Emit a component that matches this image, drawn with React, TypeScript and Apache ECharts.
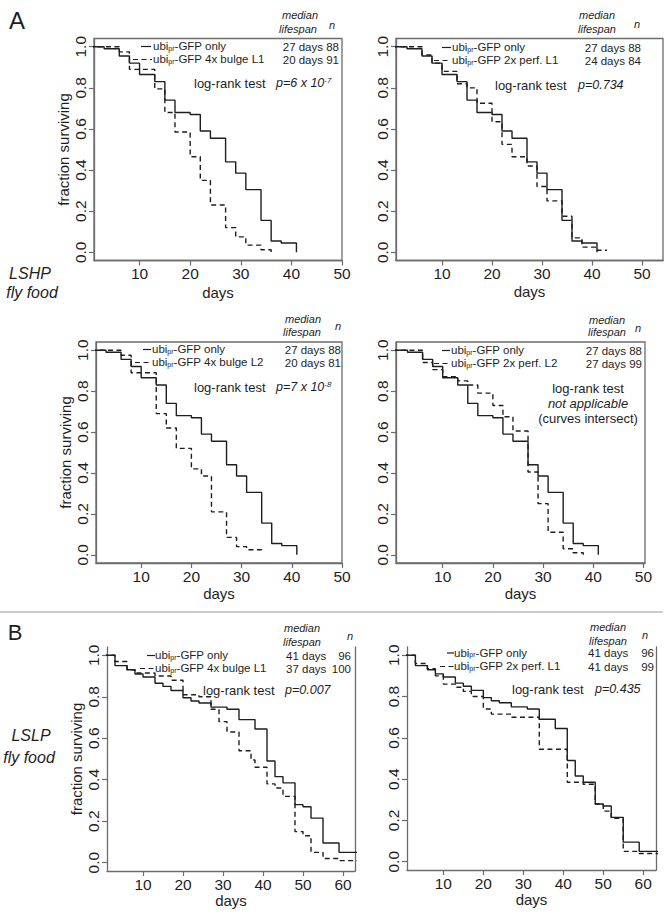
import React, { useEffect, useRef } from "react";
import * as echarts from "echarts";

const FONT = "'Liberation Sans', Arial, Helvetica, sans-serif";
const INK = "#1e1e1e";
const BOX = "#6c6c6c";

// ---------- data: day of census, fraction surviving ----------
const ctrlA_days = [0, 3, 6, 8, 10, 13, 15, 17, 20, 22, 24, 27, 29, 31, 34, 36, 38, 41];
const ctrlA_surv = [1.0, 0.99, 0.955, 0.92, 0.865, 0.83, 0.74, 0.68, 0.67, 0.59, 0.555, 0.44, 0.385, 0.305, 0.155, 0.055, 0.045, 0.0];

const bulgeL1A_days = [0, 6, 8, 13, 15, 17, 20, 22, 24, 27, 29, 31, 34, 36];
const bulgeL1A_surv = [1.0, 0.975, 0.89, 0.795, 0.68, 0.585, 0.465, 0.35, 0.23, 0.12, 0.075, 0.035, 0.012, 0.0];

const perfL1A_days = [0, 6, 8, 10, 13, 15, 17, 20, 22, 24, 27, 29, 31, 34, 36, 38, 41, 43];
const perfL1A_surv = [1.0, 0.96, 0.92, 0.88, 0.82, 0.8, 0.725, 0.635, 0.525, 0.465, 0.42, 0.32, 0.25, 0.175, 0.07, 0.025, 0.01, 0.01];

const bulgeL2A_days = [0, 6, 8, 13, 15, 17, 20, 22, 24, 27, 29, 31, 34];
const bulgeL2A_surv = [1.0, 0.975, 0.89, 0.69, 0.62, 0.52, 0.42, 0.385, 0.21, 0.085, 0.04, 0.025, 0.012];

const perfL2A_days = [0, 6, 8, 10, 13, 15, 17, 20, 22, 24, 27, 29, 31, 34, 36, 38];
const perfL2A_surv = [1.0, 0.94, 0.905, 0.87, 0.85, 0.83, 0.79, 0.73, 0.675, 0.605, 0.405, 0.25, 0.11, 0.03, 0.01, 0.0];

const ctrlB_days = [0, 3, 6, 8, 10, 13, 15, 17, 20, 22, 24, 27, 31, 34, 38, 41, 43, 45, 48, 50, 52, 55, 59, 64];
const ctrlB_surv = [1.0, 0.95, 0.93, 0.91, 0.895, 0.865, 0.85, 0.83, 0.795, 0.78, 0.77, 0.75, 0.74, 0.69, 0.645, 0.49, 0.415, 0.385, 0.28, 0.27, 0.215, 0.095, 0.05, 0.05];

const bulgeL1B_days = [0, 3, 6, 8, 13, 17, 20, 24, 27, 29, 31, 34, 37, 38, 41, 43, 45, 48, 50, 52, 55, 59, 64];
const bulgeL1B_surv = [1.0, 0.97, 0.93, 0.915, 0.9, 0.88, 0.81, 0.8, 0.74, 0.68, 0.63, 0.54, 0.495, 0.46, 0.38, 0.36, 0.32, 0.15, 0.13, 0.05, 0.02, 0.01, 0.01];

const perfL1B_days = [0, 3, 6, 8, 10, 13, 15, 17, 20, 22, 27, 34, 41, 45, 48, 50, 52, 55, 59, 64];
const perfL1B_surv = [1.0, 0.96, 0.935, 0.9, 0.86, 0.845, 0.825, 0.8, 0.74, 0.715, 0.7, 0.545, 0.385, 0.375, 0.28, 0.245, 0.21, 0.05, 0.04, 0.04];

const yTicks = [0, 0.2, 0.4, 0.6, 0.8, 1.0];
const xTicksA = [10, 20, 30, 40, 50];
const xTicksB = [10, 20, 30, 40, 50, 60];

// legend texts
const ctrlLabel = "-GFP only";
const labelsA = ["-GFP 4x bulge L1", "-GFP 2x perf. L1", "-GFP 4x bulge L2", "-GFP 2x perf. L2"];
const mediansA = ["20 days 91", "24 days 84", "20 days 81", "27 days 99"];
const ctrlMedianA = "27 days 88";
const labelsB = ["-GFP 4x bulge L1", "-GFP 2x perf. L1"];
const mediansB = ["37 days", "41 days"];
const nB = ["100", "99"];
const ctrlMedianB = "41 days";
const ctrlNB = "96";
const pValues = ["p=6 x 10", "p=0.734", "p=7 x 10", "", "p=0.007", "p=0.435"];
const pExps = ["-7", "", "-8", "", "", ""];

const zip = (d: number[], s: number[]) => d.map((x, i) => [x, s[i]]);

type Panel = {
  grid: { left: number; top: number; width: number; height: number };
  xMin: number;
  xMax: number;
  xTicks: number[];
  yName: boolean;
  topBorder: boolean;
  nameGap: number;
  solid: number[][];
  dashed: number[][];
};

const panels: Panel[] = [
  { grid: { left: 94, top: 38.5, width: 248, height: 222 }, xMin: 1, xMax: 50, xTicks: xTicksA, yName: true, topBorder: true, nameGap: 24, solid: zip(ctrlA_days, ctrlA_surv), dashed: zip(bulgeL1A_days, bulgeL1A_surv) },
  { grid: { left: 396, top: 38.5, width: 267, height: 222 }, xMin: 0.8, xMax: 54.2, xTicks: xTicksA, yName: false, topBorder: true, nameGap: 23, solid: zip(ctrlA_days, ctrlA_surv), dashed: zip(perfL1A_days, perfL1A_surv) },
  { grid: { left: 96, top: 342, width: 246, height: 221 }, xMin: 1, xMax: 50, xTicks: xTicksA, yName: true, topBorder: true, nameGap: 23, solid: zip(ctrlA_days, ctrlA_surv), dashed: zip(bulgeL2A_days, bulgeL2A_surv) },
  { grid: { left: 396, top: 342, width: 249, height: 221 }, xMin: 0.7, xMax: 50.3, xTicks: xTicksA, yName: false, topBorder: true, nameGap: 23, solid: zip(ctrlA_days, ctrlA_surv), dashed: zip(perfL2A_days, perfL2A_surv) },
  { grid: { left: 107, top: 647, width: 248, height: 224 }, xMin: 1, xMax: 63, xTicks: xTicksB, yName: true, topBorder: false, nameGap: 21, solid: zip(ctrlB_days, ctrlB_surv), dashed: zip(bulgeL1B_days, bulgeL1B_surv) },
  { grid: { left: 407, top: 647, width: 249, height: 223 }, xMin: 0.9, xMax: 63.2, xTicks: xTicksB, yName: false, topBorder: false, nameGap: 21, solid: zip(ctrlB_days, ctrlB_surv), dashed: zip(perfL1B_days, perfL1B_surv) },
];

// legend anchor positions per panel
const legendPos = [
  { med: [300, 15], life: [298, 29], n: [332, 25], rows: [46.5, 59.5], solidLine: [141, 151], dashLine: [133, 152], tx: 153, right: 339, lr: [194, 83], p: 276 },
  { med: [597, 15], life: [597, 29], n: [637, 24], rows: [47.5, 60.5], solidLine: [442, 451], dashLine: [434, 451], tx: 452, right: 641, lr: [495, 85], p: 578 },
  { med: [303, 319], life: [302, 332], n: [338, 326], rows: [349.5, 362.5], solidLine: [143, 151], dashLine: [135, 151], tx: 152, right: 341, lr: [194, 387], p: 276 },
  { med: [607, 320], life: [607, 332], n: [638, 328], rows: [350.5, 363.5], solidLine: [442, 450], dashLine: [434, 450], tx: 451, right: 642, lr: [588, 388], p: 0 },
  { med: [302, 628], life: [302, 642], n: [350, 636], rows: [655.5, 668.5], solidLine: [147, 155], dashLine: [140, 155], tx: 155, right: 351, lr: [203, 690], p: 285, dx: 286 },
  { med: [608, 627], life: [608, 641], n: [645, 635], rows: [653, 666.5], solidLine: [447, 454], dashLine: [440, 454], tx: 454, right: 654, lr: [512, 689], p: 595, dx: 588 },
];

function txt(text: string, x: number, y: number, o: any = {}) {
  return {
    type: "text",
    x,
    y,
    silent: true,
    style: {
      text,
      fill: INK,
      fontFamily: FONT,
      fontSize: o.size || 11.5,
      fontStyle: o.italic ? "italic" : "normal",
      textAlign: o.align || "left",
      textVerticalAlign: "middle",
      ...(o.rich ? { rich: o.rich } : {}),
    },
  };
}

const richSub = {
  m: { fontSize: 11.5, fontFamily: FONT, fill: INK, color: INK, lineHeight: 11 },
  sb: { fontSize: 7, fontFamily: FONT, fill: "#222222", color: "#222222", lineHeight: 4, verticalAlign: "bottom" },
};
const richSup = {
  i: { fontSize: 12.5, fontFamily: FONT, fill: INK, color: INK, fontStyle: "italic", lineHeight: 13 },
  e: { fontSize: 8, fontFamily: FONT, fill: INK, color: INK, fontStyle: "italic", lineHeight: 8, verticalAlign: "top" },
};

function buildOption() {
  const grid: any[] = [];
  const xAxis: any[] = [];
  const yAxis: any[] = [];
  const series: any[] = [];
  const graphic: any[] = [];

  panels.forEach((p, i) => {
    grid.push({ ...p.grid, show: p.topBorder, borderColor: BOX, borderWidth: 1.3, backgroundColor: "transparent" });
    xAxis.push({
      type: "value",
      gridIndex: i,
      min: p.xMin,
      max: p.xMax,
      axisLine: { show: true, onZero: false, lineStyle: { color: BOX, width: 1.3 } },
      axisTick: { show: true, length: 5, customValues: p.xTicks, lineStyle: { color: BOX, width: 1.2 } },
      axisLabel: { customValues: p.xTicks, color: INK, fontSize: 15.5, fontFamily: FONT, margin: 5 },
      splitLine: { show: false },
      name: "days",
      nameLocation: "middle",
      nameGap: p.nameGap,
      nameTextStyle: { color: INK, fontSize: 15, fontFamily: FONT },
    });
    const yIdx = yAxis.length;
    yAxis.push({
      type: "value",
      gridIndex: i,
      min: -0.04,
      max: 1.04,
      axisLine: { show: true, onZero: false, lineStyle: { color: BOX, width: 1.3 } },
      axisTick: { show: true, length: 5, customValues: yTicks, lineStyle: { color: BOX, width: 1.2 } },
      axisLabel: { customValues: yTicks, rotate: 90, color: INK, fontSize: 15.5, fontFamily: FONT, margin: 6, formatter: (v: number) => v.toFixed(1) },
      splitLine: { show: false },
      name: p.yName ? "fraction surviving" : "",
      nameLocation: "middle",
      nameRotate: 90,
      nameGap: 22,
      nameTextStyle: { color: INK, fontSize: 15, fontFamily: FONT },
    });
    if (!p.topBorder) {
      yAxis.push({
        type: "value",
        gridIndex: i,
        position: "right",
        min: -0.04,
        max: 1.04,
        axisLine: { show: true, onZero: false, lineStyle: { color: BOX, width: 1.3 } },
        axisTick: { show: false },
        axisLabel: { show: false },
        splitLine: { show: false },
      });
    }
    series.push({
      type: "line",
      xAxisIndex: i,
      yAxisIndex: yIdx,
      data: p.dashed,
      step: "end",
      symbol: "none",
      silent: true,
      lineStyle: { color: INK, width: 1.4, type: [5, 3.5] },
    });
    series.push({
      type: "line",
      xAxisIndex: i,
      yAxisIndex: yIdx,
      data: p.solid,
      step: "end",
      symbol: "none",
      silent: true,
      lineStyle: { color: INK, width: 1.4, type: "solid" },
    });

    // legend block
    const L: any = legendPos[i];
    graphic.push(txt("median", L.med[0], L.med[1], { size: 11, italic: true, align: "center" }));
    graphic.push(txt("lifespan", L.life[0], L.life[1], { size: 11, italic: true, align: "center" }));
    graphic.push(txt("n", L.n[0], L.n[1], { size: 11, italic: true, align: "center" }));
    graphic.push({ type: "line", silent: true, shape: { x1: L.solidLine[0], y1: L.rows[0], x2: L.solidLine[1], y2: L.rows[0] }, style: { stroke: INK, lineWidth: 1.2 } });
    graphic.push({ type: "line", silent: true, shape: { x1: L.dashLine[0], y1: L.rows[1], x2: L.dashLine[1], y2: L.rows[1] }, style: { stroke: INK, lineWidth: 1.2, lineDash: [5, 3.5] } });
    const isA = i < 4;
    const lab = isA ? labelsA[i] : labelsB[i - 4];
    graphic.push(txt(`{m|ubi}{sb|pr}{m|${ctrlLabel}}`, L.tx, L.rows[0] - 0.5, { rich: richSub }));
    graphic.push(txt(`{m|ubi}{sb|pr}{m|${lab}}`, L.tx, L.rows[1] - 0.5, { rich: richSub }));
    if (isA) {
      graphic.push(txt(ctrlMedianA, L.right, L.rows[0], { align: "right" }));
      graphic.push(txt(mediansA[i], L.right, L.rows[1], { align: "right" }));
    } else {
      graphic.push(txt(ctrlMedianB, L.dx, L.rows[0]));
      graphic.push(txt(mediansB[i - 4], L.dx, L.rows[1]));
      graphic.push(txt(ctrlNB, L.right, L.rows[0], { align: "right" }));
      graphic.push(txt(nB[i - 4], L.right, L.rows[1], { align: "right" }));
    }
    if (i === 3) {
      graphic.push(txt("log-rank test", L.lr[0], L.lr[1], { size: 13, align: "center" }));
      graphic.push(txt("not applicable", L.lr[0], L.lr[1] + 15, { size: 13, italic: true, align: "center" }));
      graphic.push(txt("(curves intersect)", L.lr[0], L.lr[1] + 30, { size: 13, align: "center" }));
    } else {
      graphic.push(txt("log-rank test", L.lr[0], L.lr[1], { size: 13 }));
      const pt = pExps[i] ? `{i|${pValues[i]}}{e|${pExps[i]}}` : `{i|${pValues[i]}}`;
      graphic.push(txt(pt, L.p, L.lr[1], { rich: richSup }));
    }
  });

  // panel letters and food labels
  graphic.push(txt("A", 17, 20, { size: 24, align: "center" }));
  graphic.push(txt("B", 15, 632, { size: 22, align: "center" }));
  graphic.push(txt("LSHP", 30, 273, { size: 16, italic: true, align: "center" }));
  graphic.push(txt("fly food", 32, 292, { size: 16, italic: true, align: "center" }));
  graphic.push(txt("LSLP", 31, 735, { size: 16, italic: true, align: "center" }));
  graphic.push(txt("fly food", 29, 757, { size: 16, italic: true, align: "center" }));
  graphic.push({ type: "line", silent: true, shape: { x1: 0, y1: 612, x2: 663, y2: 612 }, style: { stroke: "#9a9a9a", lineWidth: 1.2 } });

  return {
    animation: false,
    backgroundColor: "#ffffff",
    grid,
    xAxis,
    yAxis,
    series,
    graphic,
  };
}

export default function App() {
  const ref = useRef<HTMLDivElement>(null);
  useEffect(() => {
    if (!ref.current) return;
    const chart = echarts.init(ref.current, null, { renderer: "svg" });
    chart.setOption(buildOption() as any);
    return () => chart.dispose();
  }, []);
  return (
    <div
      ref={ref}
      style={{ position: "absolute", left: 0, top: 0, width: 668, height: 920, background: "#fff" }}
    />
  );
}
